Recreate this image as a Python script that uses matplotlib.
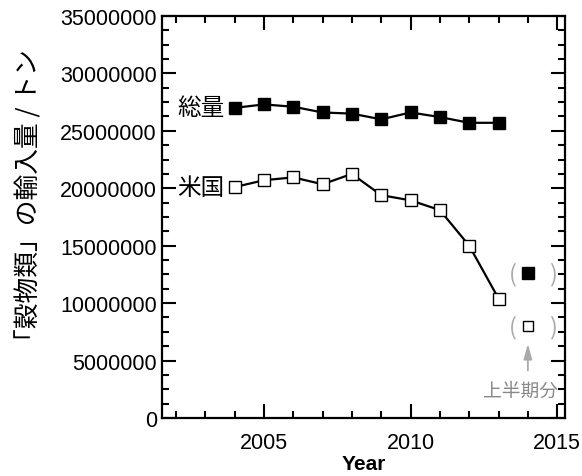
import matplotlib
matplotlib.use("Agg")
import matplotlib.pyplot as plt
from matplotlib.ticker import MultipleLocator, AutoMinorLocator

years = [2004, 2005, 2006, 2007, 2008, 2009, 2010, 2011, 2012, 2013]
total = [27000000, 27300000, 27100000, 26600000, 26500000, 26000000, 26600000, 26200000, 25700000, 25700000]
usa = [20100000, 20700000, 20950000, 20350000, 21250000, 19400000, 18950000, 18100000, 15000000, 10400000]
half_year = 2014
half_total = 12600000
half_usa = 8000000

jp = ['Noto Sans CJK JP', 'DejaVu Sans']
plt.rcParams['font.family'] = ['Liberation Sans', 'DejaVu Sans']

fig = plt.figure(figsize=(5.82, 4.77), dpi=100)
ax = fig.add_axes([0.278, 0.1216, 0.693, 0.8428])

ax.plot(years, total, color='black', lw=1.6, marker='s', ms=8.5,
        mfc='black', mec='black', mew=1)
ax.plot(years, usa, color='black', lw=1.6, marker='s', ms=8.5,
        mfc='white', mec='black', mew=1)
ax.plot([half_year], [half_total], ls='none', marker='s', ms=8,
        mfc='black', mec='black', mew=1)
ax.plot([half_year], [half_usa], ls='none', marker='s', ms=7.5,
        mfc='white', mec='black', mew=1)

gray = '#aaaaaa'
for v in (half_total, half_usa):
    ax.text(half_year - 0.5, v, '(', color=gray, fontsize=17, ha='center', va='center', family=jp)
    ax.text(half_year + 0.85, v, ')', color=gray, fontsize=17, ha='center', va='center', family=jp)

ax.annotate('', xy=(half_year, 6700000), xytext=(half_year, 3900000),
            arrowprops=dict(arrowstyle='-|>,head_length=0.9,head_width=0.25', color=gray, lw=1.3))
ax.text(half_year - 0.25, 2400000, '上半期分', color='#888888', fontsize=13.5,
        ha='center', va='center', family=jp)

ax.text(years[0] - 0.35, total[0], '総量', fontsize=17, ha='right', va='center', family=jp)
ax.text(years[0] - 0.35, usa[0], '米国', fontsize=17, ha='right', va='center', family=jp)

ax.set_xlim(2001.52, 2015.27)
ax.set_ylim(0, 35000000)
ax.xaxis.set_major_locator(MultipleLocator(5))
ax.xaxis.set_minor_locator(MultipleLocator(1))
ax.yaxis.set_major_locator(MultipleLocator(5000000))
ax.yaxis.set_minor_locator(AutoMinorLocator(4))
ax.yaxis.set_major_formatter(matplotlib.ticker.FuncFormatter(lambda v, p: f'{int(v)}'))

ax.tick_params(which='both', direction='in', top=True, right=True, width=1.5, labelsize=15.5)
ax.tick_params(which='major', length=10)
ax.tick_params(which='minor', length=5)
ax.tick_params(axis='x', which='both', pad=10)
for s in ax.spines.values():
    s.set_linewidth(1.6)

ax.set_xlabel('Year', fontsize=15, fontweight='bold', labelpad=1)
ax.set_ylabel('「穀物類」の輸入量 / トン', fontsize=18.5, family=jp, labelpad=13)
ax.yaxis.label.set_y(0.54)

fig.savefig('out.png', dpi=100)
